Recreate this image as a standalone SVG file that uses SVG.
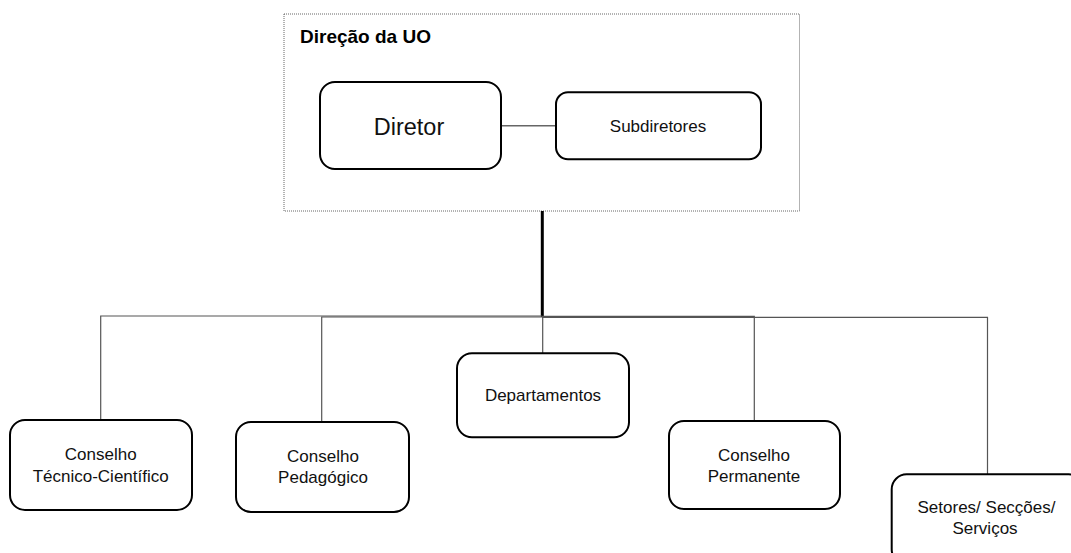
<svg xmlns="http://www.w3.org/2000/svg" width="1071" height="553" viewBox="0 0 1071 553">
<style>
.box{fill:#fff;stroke:#000;stroke-width:2}
.lbl{font-family:"Liberation Sans",Arial,sans-serif;font-size:17px;fill:#111;text-anchor:middle}
.big{font-size:23.5px}
.conn{fill:none;stroke:#555;stroke-width:1.2}
</style>
<rect width="1071" height="553" fill="#fff"/>
<g id="direcao">
<rect x="284" y="14" width="515.5" height="197" fill="none" stroke="#666" stroke-width="1" stroke-dasharray="1 1"/>
<text x="300" y="42.7" font-family="Liberation Sans,Arial,sans-serif" font-size="19" font-weight="bold" fill="#000">Direção da UO</text>
</g>
<g id="connectors">
<line x1="501" y1="125.7" x2="556" y2="125.7" stroke="#666" stroke-width="1.5"/>
<line x1="542.3" y1="211" x2="542.3" y2="317" stroke="#000" stroke-width="3"/>
<path class="conn" d="M542 316 H100.7 V420"/>
<path class="conn" d="M542 317 H321.7 V422"/>
<path class="conn" d="M542.7 316 V353"/>
<path class="conn" d="M542 316.3 H754.3 V421"/>
<path class="conn" d="M542 317.3 H987.5 V474" stroke="#222"/>
</g>
<g id="diretor">
<rect class="box" x="320" y="82" width="181" height="87" rx="15"/>
<text class="lbl big" x="409" y="135">Diretor</text>
</g>
<g id="subdiretores">
<rect class="box" x="556" y="92.3" width="205" height="67" rx="12"/>
<text class="lbl" x="658" y="131.7">Subdiretores</text>
</g>
<g id="conselho-tecnico-cientifico">
<rect class="box" x="10" y="420" width="182" height="90" rx="15"/>
<text class="lbl" x="100.7" y="460">Conselho</text>
<text class="lbl" x="100.7" y="481.7">Técnico-Científico</text>
</g>
<g id="conselho-pedagogico">
<rect class="box" x="236" y="422" width="173" height="90" rx="15"/>
<text class="lbl" x="323" y="461.7">Conselho</text>
<text class="lbl" x="323" y="483.3">Pedagógico</text>
</g>
<g id="departamentos">
<rect class="box" x="457" y="353.3" width="172" height="84" rx="15"/>
<text class="lbl" x="543" y="401">Departamentos</text>
</g>
<g id="conselho-permanente">
<rect class="box" x="669" y="421" width="171" height="88" rx="15"/>
<text class="lbl" x="754" y="460.7">Conselho</text>
<text class="lbl" x="754" y="481.7">Permanente</text>
</g>
<g id="setores">
<rect class="box" x="891.7" y="474.3" width="192" height="90" rx="15"/>
<text class="lbl" x="986.5" y="512.7">Setores/ Secções/</text>
<text class="lbl" x="985" y="534">Serviços</text>
</g>
</svg>
